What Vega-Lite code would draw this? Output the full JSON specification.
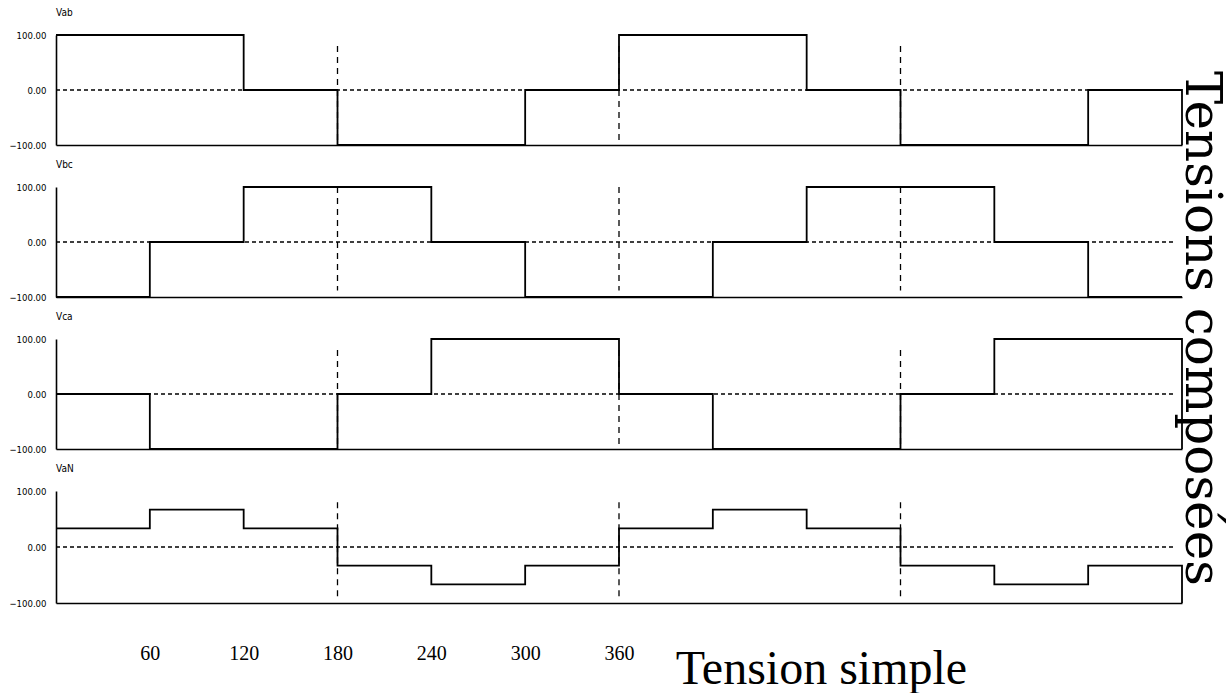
{
  "$schema": "https://vega.github.io/schema/vega-lite/v6.json",
  "background": "white",
  "padding": {"left": 8, "top": 8, "right": 0, "bottom": 0},
  "config": {
    "view": {"stroke": null},
    "concat": {"spacing": 10},
    "axis": {"grid": false, "ticks": false, "domainColor": "black", "domainWidth": 1.6, "labelColor": "black", "titleColor": "black"},
    "axisY": {"labelFont": "DejaVu Sans Condensed", "labelFontSize": 9.5, "labelPadding": 10, "labelFontWeight": "normal"},
    "title": {"anchor": "start", "font": "DejaVu Sans Condensed", "fontSize": 10, "fontWeight": "normal", "color": "black", "offset": 12, "frame": "group"}
  },
  "title": {"text": "Tensions composées", "orient": "right", "anchor": "middle", "frame": "bounds", "font": "DejaVu Serif", "fontSize": 50, "fontWeight": "normal", "color": "black", "offset": -10, "dx": -22},
  "datasets": {
    "signals": [
      {"panel": "Vab", "deg": 0, "v": 100}, {"panel": "Vab", "deg": 120, "v": 0}, {"panel": "Vab", "deg": 180, "v": -100}, {"panel": "Vab", "deg": 300, "v": 0}, {"panel": "Vab", "deg": 360, "v": 100}, {"panel": "Vab", "deg": 480, "v": 0}, {"panel": "Vab", "deg": 540, "v": -100}, {"panel": "Vab", "deg": 660, "v": 0}, {"panel": "Vab", "deg": 720, "v": -100},
      {"panel": "Vbc", "deg": 0, "v": -100}, {"panel": "Vbc", "deg": 60, "v": 0}, {"panel": "Vbc", "deg": 120, "v": 100}, {"panel": "Vbc", "deg": 240, "v": 0}, {"panel": "Vbc", "deg": 300, "v": -100}, {"panel": "Vbc", "deg": 420, "v": 0}, {"panel": "Vbc", "deg": 480, "v": 100}, {"panel": "Vbc", "deg": 600, "v": 0}, {"panel": "Vbc", "deg": 660, "v": -100}, {"panel": "Vbc", "deg": 720, "v": -100},
      {"panel": "Vca", "deg": 0, "v": 0}, {"panel": "Vca", "deg": 60, "v": -100}, {"panel": "Vca", "deg": 180, "v": 0}, {"panel": "Vca", "deg": 240, "v": 100}, {"panel": "Vca", "deg": 360, "v": 0}, {"panel": "Vca", "deg": 420, "v": -100}, {"panel": "Vca", "deg": 540, "v": 0}, {"panel": "Vca", "deg": 600, "v": 100}, {"panel": "Vca", "deg": 720, "v": -100},
      {"panel": "VaN", "deg": 0, "v": 33.3}, {"panel": "VaN", "deg": 60, "v": 66.7}, {"panel": "VaN", "deg": 120, "v": 33.3}, {"panel": "VaN", "deg": 180, "v": -33.3}, {"panel": "VaN", "deg": 240, "v": -66.7}, {"panel": "VaN", "deg": 300, "v": -33.3}, {"panel": "VaN", "deg": 360, "v": 33.3}, {"panel": "VaN", "deg": 420, "v": 66.7}, {"panel": "VaN", "deg": 480, "v": 33.3}, {"panel": "VaN", "deg": 540, "v": -33.3}, {"panel": "VaN", "deg": 600, "v": -66.7}, {"panel": "VaN", "deg": 660, "v": -33.3}, {"panel": "VaN", "deg": 720, "v": -100}
    ],
    "guides": [{"deg": 180}, {"deg": 360}, {"deg": 540}],
    "zero": [{"from": 0, "to": 715, "level": 0}]
  },
  "vconcat": [
    {
      "title": "Vab", "width": 1126, "height": 110,
      "layer": [
        {"data": {"name": "zero"}, "mark": {"type": "rule", "color": "black", "strokeWidth": 1.5, "strokeDash": [4, 3]}, "encoding": {"x": {"field": "from", "type": "quantitative", "scale": {"domain": [0, 720], "nice": false}, "title": null}, "x2": {"field": "to"}, "y": {"field": "level", "type": "quantitative", "scale": {"domain": [-100, 100], "nice": false}, "title": null}}},
        {"data": {"name": "guides"}, "mark": {"type": "rule", "color": "black", "strokeWidth": 1.3, "strokeDash": [6, 5]}, "encoding": {"x": {"field": "deg", "type": "quantitative", "title": null}, "y": {"datum": 80, "type": "quantitative"}, "y2": {"datum": -92}}},
        {"data": {"name": "signals"}, "transform": [{"filter": "datum.panel === 'Vab'"}], "mark": {"type": "line", "interpolate": "step-after", "color": "black", "strokeWidth": 1.8}, "encoding": {"x": {"field": "deg", "type": "quantitative", "title": null, "axis": {"labels": false, "title": null}}, "y": {"field": "v", "type": "quantitative", "title": null, "axis": {"values": [-100, 0, 100], "format": ".2f", "title": null}}}}
      ]
    },
    {
      "title": "Vbc", "width": 1126, "height": 110,
      "layer": [
        {"data": {"name": "zero"}, "mark": {"type": "rule", "color": "black", "strokeWidth": 1.5, "strokeDash": [4, 3]}, "encoding": {"x": {"field": "from", "type": "quantitative", "scale": {"domain": [0, 720], "nice": false}, "title": null}, "x2": {"field": "to"}, "y": {"field": "level", "type": "quantitative", "scale": {"domain": [-100, 100], "nice": false}, "title": null}}},
        {"data": {"name": "guides"}, "mark": {"type": "rule", "color": "black", "strokeWidth": 1.3, "strokeDash": [6, 5]}, "encoding": {"x": {"field": "deg", "type": "quantitative", "title": null}, "y": {"datum": 100, "type": "quantitative"}, "y2": {"datum": -88}}},
        {"data": {"name": "signals"}, "transform": [{"filter": "datum.panel === 'Vbc'"}], "mark": {"type": "line", "interpolate": "step-after", "color": "black", "strokeWidth": 1.8}, "encoding": {"x": {"field": "deg", "type": "quantitative", "title": null, "axis": {"labels": false, "title": null}}, "y": {"field": "v", "type": "quantitative", "title": null, "axis": {"values": [-100, 0, 100], "format": ".2f", "title": null}}}}
      ]
    },
    {
      "title": "Vca", "width": 1126, "height": 110,
      "layer": [
        {"data": {"name": "zero"}, "mark": {"type": "rule", "color": "black", "strokeWidth": 1.5, "strokeDash": [4, 3]}, "encoding": {"x": {"field": "from", "type": "quantitative", "scale": {"domain": [0, 720], "nice": false}, "title": null}, "x2": {"field": "to"}, "y": {"field": "level", "type": "quantitative", "scale": {"domain": [-100, 100], "nice": false}, "title": null}}},
        {"data": {"name": "guides"}, "mark": {"type": "rule", "color": "black", "strokeWidth": 1.3, "strokeDash": [6, 5]}, "encoding": {"x": {"field": "deg", "type": "quantitative", "title": null}, "y": {"datum": 80, "type": "quantitative"}, "y2": {"datum": -92}}},
        {"data": {"name": "signals"}, "transform": [{"filter": "datum.panel === 'Vca'"}], "mark": {"type": "line", "interpolate": "step-after", "color": "black", "strokeWidth": 1.8}, "encoding": {"x": {"field": "deg", "type": "quantitative", "title": null, "axis": {"labels": false, "title": null}}, "y": {"field": "v", "type": "quantitative", "title": null, "axis": {"values": [-100, 0, 100], "format": ".2f", "title": null}}}}
      ]
    },
    {
      "title": "VaN", "width": 1126, "height": 112,
      "layer": [
        {"data": {"name": "zero"}, "mark": {"type": "rule", "color": "black", "strokeWidth": 1.5, "strokeDash": [4, 3]}, "encoding": {"x": {"field": "from", "type": "quantitative", "scale": {"domain": [0, 720], "nice": false}, "title": "Tension simple"}, "x2": {"field": "to"}, "y": {"field": "level", "type": "quantitative", "scale": {"domain": [-100, 100], "nice": false}, "title": null}}},
        {"data": {"name": "guides"}, "mark": {"type": "rule", "color": "black", "strokeWidth": 1.3, "strokeDash": [6, 5]}, "encoding": {"x": {"field": "deg", "type": "quantitative", "title": "Tension simple"}, "y": {"datum": 80, "type": "quantitative"}, "y2": {"datum": -92}}},
        {"data": {"name": "signals"}, "transform": [{"filter": "datum.panel === 'VaN'"}], "mark": {"type": "line", "interpolate": "step-after", "color": "black", "strokeWidth": 1.8}, "encoding": {"x": {"field": "deg", "type": "quantitative", "title": "Tension simple", "axis": {"values": [60, 120, 180, 240, 300, 360], "labelFont": "Liberation Serif", "labelFontSize": 20, "labelPadding": 40, "title": "Tension simple", "titleFont": "Liberation Serif", "titleFontSize": 48, "titleFontWeight": "normal", "titleX": 765, "titleY": 80, "titleAlign": "center", "titleBaseline": "alphabetic"}}, "y": {"field": "v", "type": "quantitative", "title": null, "axis": {"values": [-100, 0, 100], "format": ".2f", "title": null}}}}
      ]
    }
  ]
}
